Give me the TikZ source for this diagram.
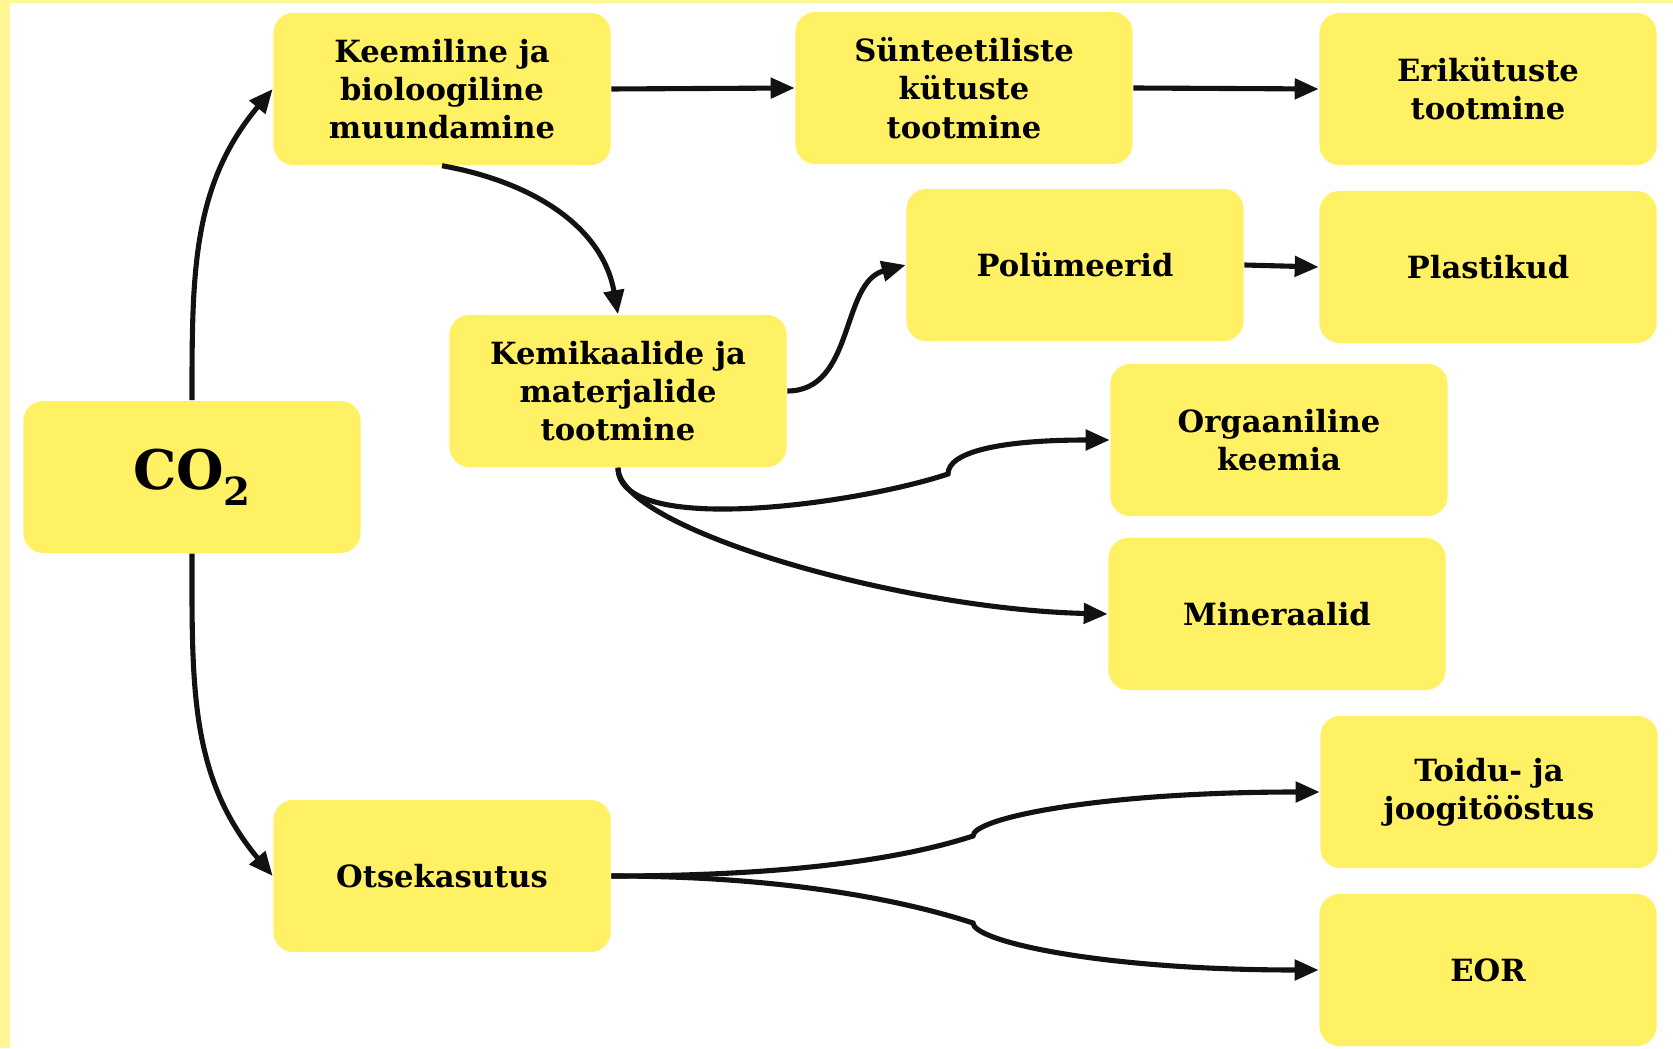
\documentclass[tikz,border=0pt]{standalone}
\usepackage{fontspec}
\setmainfont{DejaVu Serif}
\usetikzlibrary{arrows.meta}

\definecolor{boxyellow}{RGB}{255,240,100}
\definecolor{frameyellow}{RGB}{255,246,150}

\begin{document}
\begin{tikzpicture}[x=0.01cm, y=0.01cm,
    yellowbox/.style={fill=boxyellow, rounded corners=0.2cm, minimum width=3.37cm, minimum height=1.52cm, inner sep=0pt, align=center, font=\bfseries\fontsize{8.7}{10.9}\selectfont},
    arr/.style={-{Triangle[length=2.4mm, width=2mm]}, line width=1.45pt, black!93}]

    % Frame
    \useasboundingbox (0,0) rectangle (1673,1048);
    \fill[frameyellow] (0,0) rectangle (10,1048);
    \fill[frameyellow] (0,1045) rectangle (1673,1048);

    % Boxes
    \node[yellowbox, font=\bfseries\fontsize{15.5}{15.5}\selectfont] (co2) at (192,571) {CO\raisebox{-4.5pt}{\fontsize{11}{11}\selectfont 2}};
    \node[yellowbox] (kee) at (442,959) {Keemiline ja\\bioloogiline\\muundamine};
    \node[yellowbox] (syn) at (964,960) {Sünteetiliste\\kütuste\\tootmine};
    \node[yellowbox] (eri) at (1488,959) {Erikütuste\\tootmine};
    \node[yellowbox] (pol) at (1075,783) {Polümeerid};
    \node[yellowbox] (pla) at (1488,781) {Plastikud};
    \node[yellowbox] (kem) at (618,657) {Kemikaalide ja\\materjalide\\tootmine};
    \node[yellowbox] (org) at (1279,608) {Orgaaniline\\keemia};
    \node[yellowbox] (min) at (1277,434) {Mineraalid};
    \node[yellowbox] (toi) at (1489,256) {Toidu- ja\\joogitööstus};
    \node[yellowbox] (eor) at (1488,78) {EOR};
    \node[yellowbox] (ots) at (442,172) {Otsekasutus};

    % Kinks
    \coordinate (kinkO) at (948,574);
    \coordinate (kinkT) at (973,212);
    \coordinate (kinkB) at (973,125);

    % Arrows
    \draw[arr] (co2.north) to[out=90, in=230] (kee.west);
    \draw[arr] (co2.south) to[out=-90, in=130] (ots.west);
    \draw[arr] (kee.east) -- (syn.west);
    \draw[arr] (syn.east) -- (eri.west);
    \draw[arr] (pol.east) -- (pla.west);
    \draw[arr] (kee.south) to[out=-10, in=100] (kem.north);
    \draw[arr] (kem.east) to[out=0, in=195] (pol.west);
    \draw[arr] (kem.south) .. controls +(0,-70) and +(-90,-30) .. (kinkO) .. controls +(0,22) and +(-110,0) .. (org.west);
    \draw[arr] (kem.south) .. controls +(0,-60) and +(-210,5) .. (min.west);
    \draw[arr] (ots.east) .. controls +(160,0) and +(-80,-26) .. (kinkT) .. controls +(0,18) and +(-220,0) .. (toi.west);
    \draw[arr] (ots.east) .. controls +(160,0) and +(-80,26) .. (kinkB) .. controls +(0,-18) and +(-220,0) .. (eor.west);

\end{tikzpicture}
\end{document}
